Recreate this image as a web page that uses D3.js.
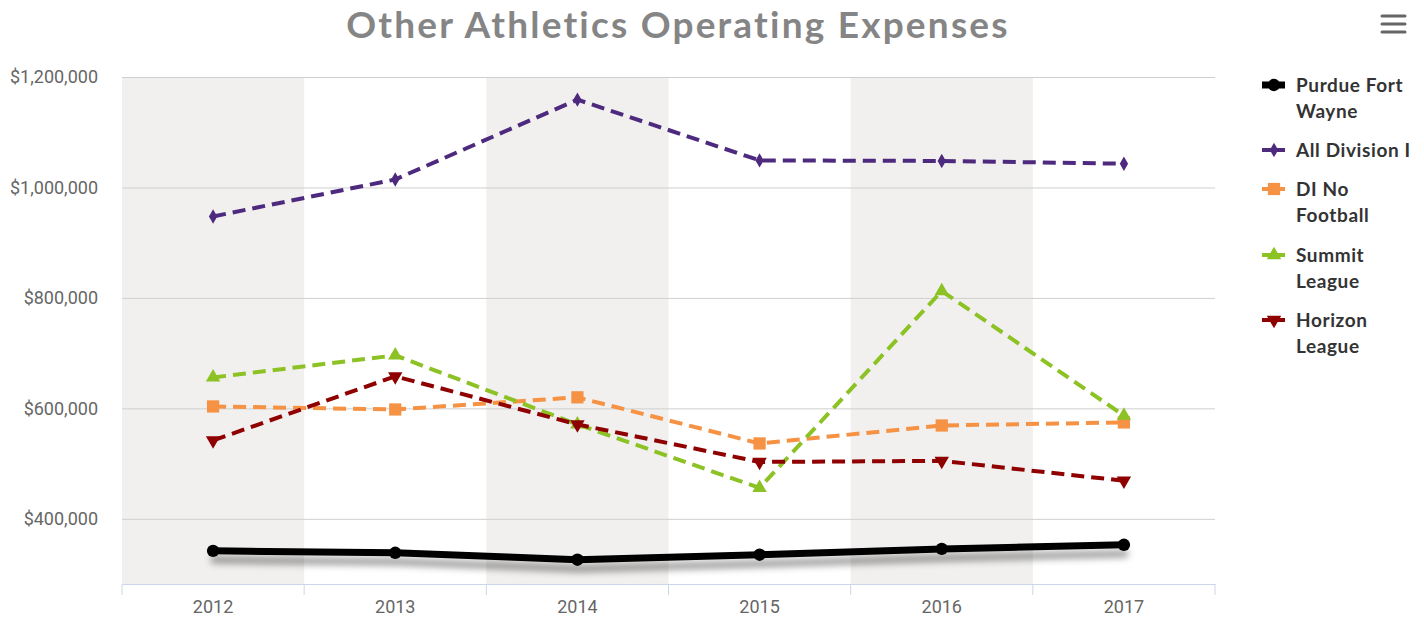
<!DOCTYPE html>
<html>
<head>
<meta charset="utf-8">
<script src="https://cdn.jsdelivr.net/npm/d3@7"></script>
<style>
  body { margin: 0; background: #fff; }
  svg { display: block; }
</style>
</head>
<body>
<div id="chart"></div>
<script>
const years = ['2012', '2013', '2014', '2015', '2016', '2017'];
const yTicks = [400000, 600000, 800000, 1000000, 1200000];

const purdue = [342000, 338500, 326000, 335000, 345500, 353000];
const allDivision = [947500, 1014500, 1159000, 1049000, 1048000, 1043000];
const noFootball = [603500, 598000, 620000, 536500, 569000, 574500];
const summit = [656000, 696000, 571000, 456000, 812500, 587000];
const horizon = [542000, 658000, 571000, 503000, 505000, 469000];

const seriesNames = ['Purdue Fort Wayne', 'All Division I', 'DI No Football', 'Summit League', 'Horizon League'];
const legendLines = [['Purdue Fort', 'Wayne'], ['All Division I'], ['DI No', 'Football'], ['Summit', 'League'], ['Horizon', 'League']];

const series = [
  { name: seriesNames[0], values: purdue, color: '#000000', width: 7, dash: null, marker: d3.symbolCircle, size: 120, shadow: true },
  { name: seriesNames[1], values: allDivision, color: '#4e2a7f', width: 4, dash: '13,7', marker: d3.symbolDiamond, size: 60 },
  { name: seriesNames[2], values: noFootball, color: '#f59244', width: 4, dash: '13,7', marker: d3.symbolSquare, size: 150 },
  { name: seriesNames[3], values: summit, color: '#8cc224', width: 4, dash: '13,7', marker: d3.symbolTriangle, size: 90 },
  { name: seriesNames[4], values: horizon, color: '#8f0000', width: 4, dash: '13,7', marker: d3.symbolTriangle, size: 90, flip: true }
];

const W = 1424, H = 622;
const plot = { left: 122, right: 1215, top: 77, bottom: 584 };

const svg = d3.select('#chart').append('svg').attr('width', W).attr('height', H);

const defs = svg.append('defs');
const f = defs.append('filter').attr('id', 'shadow').attr('x', '-10%').attr('y', '-200%').attr('width', '120%').attr('height', '500%');
f.append('feDropShadow').attr('dx', 1).attr('dy', 9).attr('stdDeviation', 3.5)
  .attr('flood-color', '#000').attr('flood-opacity', 0.4);

const x = d3.scaleBand().domain(years).range([plot.left, plot.right]);
const y = d3.scaleLinear().domain([282000, 1200000]).range([plot.bottom, plot.top]);
const cx = d => x(d) + x.bandwidth() / 2;

// alternating plot bands
svg.append('g').selectAll('rect')
  .data(years.filter((d, i) => i % 2 === 0))
  .join('rect')
  .attr('x', d => x(d)).attr('y', plot.top)
  .attr('width', x.bandwidth()).attr('height', plot.bottom - plot.top)
  .attr('fill', '#f1f0ef');

// y grid + labels
const yAxis = svg.append('g')
  .attr('transform', `translate(${plot.left},0)`)
  .call(d3.axisLeft(y).tickValues(yTicks).tickSize(-(plot.right - plot.left)).tickPadding(24)
    .tickFormat(d => '$' + d3.format(',')(d)));
yAxis.select('.domain').remove();
yAxis.selectAll('.tick line').attr('stroke', '#cfcfcf').attr('stroke-width', 1);
yAxis.selectAll('.tick text').attr('fill', '#666').style('font-family', 'Roboto, sans-serif').style('font-size', '18px');

// x axis
const xAxis = svg.append('g')
  .attr('transform', `translate(0,${plot.bottom})`)
  .call(d3.axisBottom(x).tickSize(0).tickPadding(16));
xAxis.select('.domain').attr('stroke', '#ccd6eb');
xAxis.selectAll('.tick text').attr('fill', '#666').style('font-family', 'Roboto, sans-serif').style('font-size', '18px');
xAxis.selectAll('.boundary')
  .data(d3.range(years.length + 1))
  .join('line')
  .attr('x1', i => plot.left + i * x.bandwidth()).attr('x2', i => plot.left + i * x.bandwidth())
  .attr('y1', 0).attr('y2', 11)
  .attr('stroke', '#ccd6eb');

// series
const line = d3.line().x((d, i) => cx(years[i])).y(d => y(d));
series.forEach(s => {
  const g = svg.append('g');
  g.append('path')
    .datum(s.values)
    .attr('d', line)
    .attr('fill', 'none')
    .attr('stroke', s.color)
    .attr('stroke-width', s.width)
    .attr('stroke-linecap', s.dash ? 'butt' : 'round')
    .attr('stroke-linejoin', 'round')
    .attr('stroke-dasharray', s.dash)
    .attr('filter', s.shadow ? 'url(#shadow)' : null);
  g.selectAll('path.marker')
    .data(s.values)
    .join('path')
    .attr('class', 'marker')
    .attr('d', d3.symbol(s.marker, s.size))
    .attr('transform', (d, i) => `translate(${cx(years[i])},${y(d)})${s.flip ? ' rotate(180)' : ''}`)
    .attr('fill', s.color);
});

// title
svg.append('text')
  .attr('x', 678).attr('y', 38)
  .attr('text-anchor', 'middle')
  .attr('fill', '#858585')
  .style('font-family', 'Lato, sans-serif')
  .style('font-weight', 'bold')
  .style('font-size', '37px')
  .style('letter-spacing', '2.2px')
  .text('Other Athletics Operating Expenses');

// menu icon
svg.append('g').selectAll('line')
  .data([0, 1, 2])
  .join('line')
  .attr('x1', 1382).attr('x2', 1405)
  .attr('y1', i => 16 + i * 8).attr('y2', i => 16 + i * 8)
  .attr('stroke', '#666').attr('stroke-width', 3).attr('stroke-linecap', 'round');

// legend
const legendTop = [85, 150, 189, 255, 320];
series.forEach((s, i) => {
  const g = svg.append('g').attr('transform', `translate(1262,${legendTop[i]})`);
  g.append('line')
    .attr('x1', 0).attr('x2', 23).attr('y1', 0).attr('y2', 0)
    .attr('stroke', s.color).attr('stroke-width', s.width)
    .attr('stroke-dasharray', s.dash ? '10,3' : null);
  g.append('path')
    .attr('d', d3.symbol(s.marker, s.size))
    .attr('transform', `translate(12,0)${s.flip ? ' rotate(180)' : ''}`)
    .attr('fill', s.color);
  const t = g.append('text')
    .attr('x', 34).attr('y', 7)
    .attr('fill', '#333')
    .style('font-family', 'Lato, sans-serif')
    .style('font-weight', 'bold')
    .style('font-size', '19px')
    .style('letter-spacing', '0.6px');
  legendLines[i].forEach((l, j) => {
    t.append('tspan').attr('x', 34).attr('dy', j === 0 ? 0 : 26).text(l);
  });
});
</script>
</body>
</html>
